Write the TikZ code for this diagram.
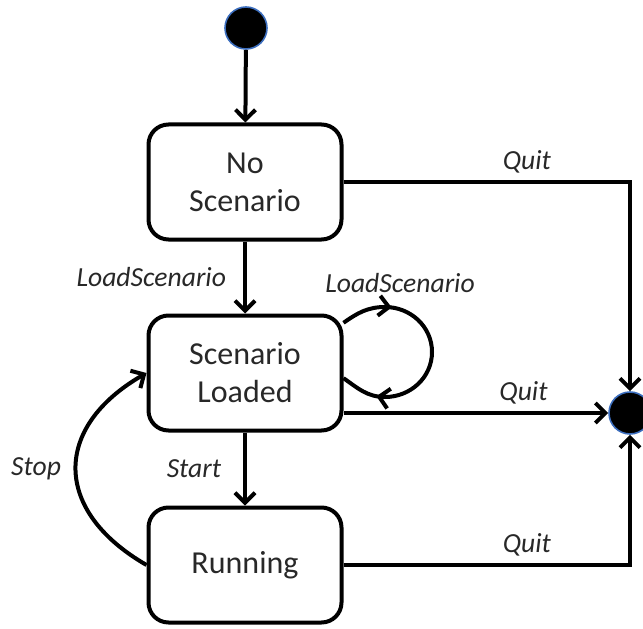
\documentclass[tikz,border=0pt]{standalone}
\usepackage{fontspec}
\setmainfont{Carlito}
\usetikzlibrary{arrows.meta,positioning,decorations.markings}
\definecolor{pseudoedge}{RGB}{60,110,190}
\definecolor{labeltext}{RGB}{40,40,40}

\begin{document}
\begin{tikzpicture}[x=0.5pt, y=0.5pt,
    state/.style={rectangle, draw, line width=2pt, rounded corners=10pt,
                  minimum width=96.5pt, minimum height=57.5pt, align=center,
                  font=\fontsize{16}{19}\selectfont, text=labeltext},
    pseudo/.style={circle, fill=black, draw=pseudoedge, line width=0.8pt,
                   minimum size=21pt, inner sep=0pt},
    arr/.style={-{Straight Barb[length=5pt, width=10pt]}, line width=2pt},
    lbl/.style={font=\fontsize{13.8}{16}\selectfont\itshape, text=labeltext},
  ]
  \useasboundingbox (0,0) rectangle (643,628);

  % Zustaende
  \node[pseudo] (init) at (246,600) {};
  \node[state] (noscen) at (245,446) {No\\Scenario};
  \node[state] (loaded) at (245,255) {Scenario\\Loaded};
  \node[state] (running) at (245,63) {Running};
  \node[pseudo] (final) at (630,215) {};

  % Uebergaenge
  \draw[arr] (init) -- (noscen);
  \draw[arr] (noscen) -- node[lbl, left=8.5pt, inner sep=0pt] {LoadScenario} (loaded);
  \draw[arr] (loaded) -- node[lbl, left=11pt, inner sep=0pt] {Start} (running);
  \draw[arr] (running.west) to[out=150, in=210, looseness=1.45]
    node[lbl, left=6.5pt, inner sep=0pt] {Stop} (loaded.west);

  % Schleife
  \draw[line width=2pt, postaction={decorate}, decoration={markings,
      mark=at position 0.22 with {\arrow{Straight Barb[length=5pt, width=10pt]}},
      mark=at position 0.84 with {\arrow{Straight Barb[length=5pt, width=10pt]}}}]
    (loaded.27) to[out=35, in=180] (385,321) to[out=0, in=90] (432,276)
    to[out=-90, in=0] (385,231) to[out=180, in=-35] (loaded.-3);
  \node[lbl] (looplbl) at (400,345) {LoadScenario};

  % Beenden
  \draw[arr] (noscen.east) -| node[lbl, pos=0.32, above] {Quit} (final.north);
  \draw[arr] (loaded.east |- final) -- node[lbl, pos=0.68, above] {Quit} (final.west);
  \draw[arr] (running.east) -| node[lbl, pos=0.32, above] {Quit} (final.south);
\end{tikzpicture}
\end{document}
